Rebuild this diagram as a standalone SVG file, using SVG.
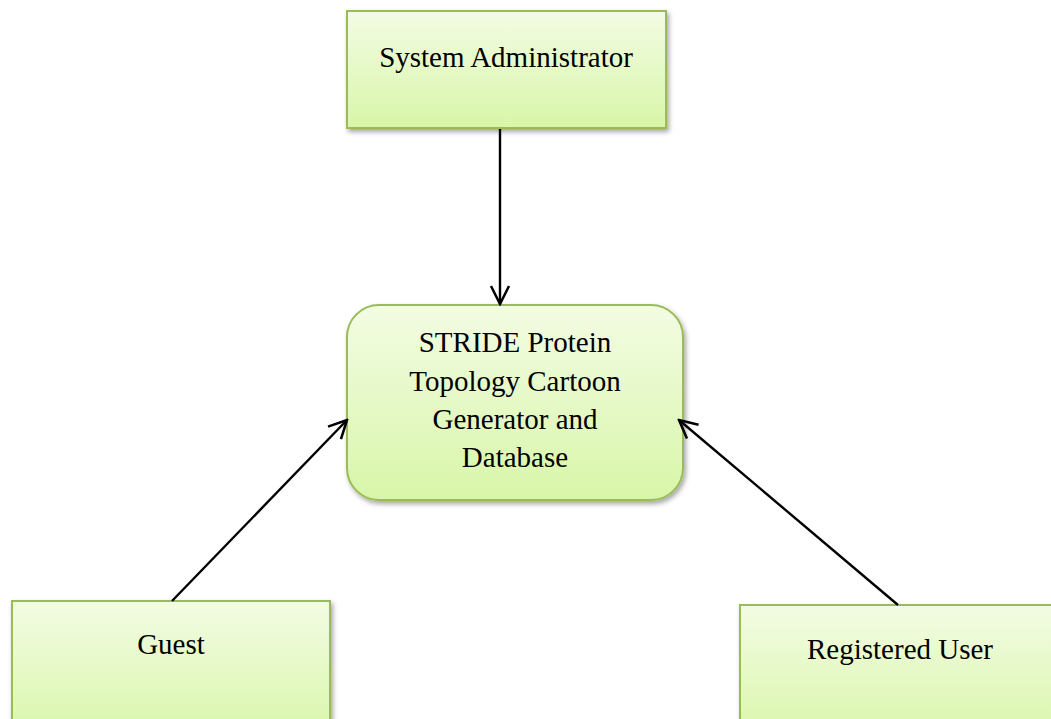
<svg xmlns="http://www.w3.org/2000/svg" width="1051" height="719" viewBox="0 0 1051 719">
<defs>
<linearGradient id="g" x1="0" y1="0" x2="0" y2="1">
<stop offset="0" stop-color="#f3fce4"/>
<stop offset="1" stop-color="#d8f6a8"/>
</linearGradient>
<filter id="sh" x="-10%" y="-10%" width="125%" height="130%">
<feDropShadow dx="2" dy="3" stdDeviation="2.5" flood-color="#000" flood-opacity="0.35"/>
</filter>
<marker id="arr" viewBox="0 0 22 22" refX="20" refY="11" markerWidth="22" markerHeight="22" markerUnits="userSpaceOnUse" orient="auto">
<polyline points="2,2 20,11 2,20" fill="none" stroke="#000" stroke-width="2.5"/>
</marker>
</defs>
<style>
.box{fill:url(#g);stroke:#9bbb59;stroke-width:2;filter:url(#sh)}
.t{font-family:"Liberation Serif","Times New Roman",serif;font-size:29px;fill:#000;text-anchor:middle}
.c{stroke:#000;stroke-width:2.4;fill:none;marker-end:url(#arr)}
</style>
<rect width="1051" height="719" fill="#fff"/>
<g id="admin">
<rect class="box" x="347" y="11" width="319" height="117"/>
<text class="t" x="506" y="67">System Administrator</text>
</g>
<g id="system">
<rect class="box" x="347" y="305" width="336" height="195" rx="32" ry="32"/>
<text class="t" x="515" y="352">STRIDE Protein</text>
<text class="t" x="515" y="391">Topology Cartoon</text>
<text class="t" x="515" y="429">Generator and</text>
<text class="t" x="515" y="467">Database</text>
</g>
<g id="guest">
<rect class="box" x="12" y="601" width="318" height="140"/>
<text class="t" x="171" y="654">Guest</text>
</g>
<g id="registered">
<rect class="box" x="740" y="605" width="322" height="140"/>
<text class="t" x="900" y="659">Registered User</text>
</g>
<g id="connectors">
<line class="c" x1="500" y1="129" x2="500" y2="304"/>
<line class="c" x1="172" y1="601" x2="347" y2="420"/>
<line class="c" x1="898" y1="605" x2="679" y2="420"/>
</g>
</svg>
